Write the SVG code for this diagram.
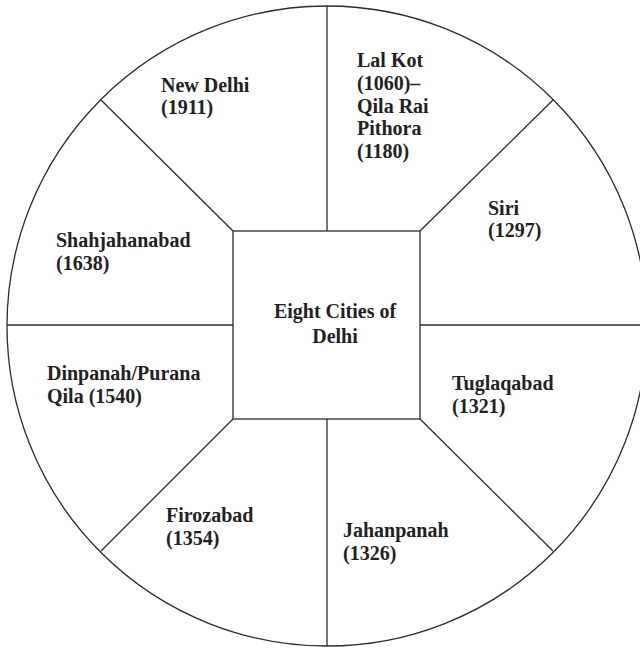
<svg xmlns="http://www.w3.org/2000/svg" width="640" height="648" viewBox="0 0 640 648">
<style>
.ln{stroke:#2b2b2b;stroke-width:1.3;fill:none}
.t{font-family:"Liberation Serif","Times New Roman",serif;font-weight:bold;font-size:20px;fill:#222}
</style>
<rect width="640" height="648" fill="#fff"/>
<g id="outer-circle"><circle class="ln" cx="327" cy="326" r="320"/></g>
<g id="connectors">
<line class="ln" x1="327" y1="6" x2="327" y2="231"/>
<line class="ln" x1="327" y1="419" x2="327" y2="646"/>
<line class="ln" x1="7" y1="325" x2="233" y2="325"/>
<line class="ln" x1="420" y1="325" x2="640" y2="325"/>
<line class="ln" x1="233" y1="231" x2="101" y2="100"/>
<line class="ln" x1="420" y1="231" x2="553" y2="100"/>
<line class="ln" x1="420" y1="419" x2="553" y2="551"/>
<line class="ln" x1="233" y1="419" x2="101" y2="551"/>
</g>
<g id="center">
<rect class="ln" x="233" y="231" width="187" height="188" fill="#fff"/>
<text class="t" text-anchor="middle"><tspan x="335" y="318">Eight Cities of</tspan><tspan x="335" y="343">Delhi</tspan></text>
</g>
<g id="new-delhi"><text class="t"><tspan x="161" y="92">New Delhi</tspan><tspan x="161" y="114">(1911)</tspan></text></g>
<g id="lal-kot"><text class="t"><tspan x="357" y="67">Lal Kot</tspan><tspan x="357" y="90">(1060)–</tspan><tspan x="357" y="112.5">Qila Rai</tspan><tspan x="357" y="135">Pithora</tspan><tspan x="357" y="157.5">(1180)</tspan></text></g>
<g id="siri"><text class="t"><tspan x="488" y="215">Siri</tspan><tspan x="488" y="237">(1297)</tspan></text></g>
<g id="shahjahanabad"><text class="t"><tspan x="56" y="247">Shahjahanabad</tspan><tspan x="56" y="270">(1638)</tspan></text></g>
<g id="dinpanah"><text class="t"><tspan x="47" y="380">Dinpanah/Purana</tspan><tspan x="47" y="403">Qila (1540)</tspan></text></g>
<g id="tuglaqabad"><text class="t"><tspan x="452" y="390">Tuglaqabad</tspan><tspan x="452" y="413">(1321)</tspan></text></g>
<g id="firozabad"><text class="t"><tspan x="166" y="522">Firozabad</tspan><tspan x="166" y="545">(1354)</tspan></text></g>
<g id="jahanpanah"><text class="t"><tspan x="343" y="537">Jahanpanah</tspan><tspan x="343" y="560">(1326)</tspan></text></g>
</svg>
